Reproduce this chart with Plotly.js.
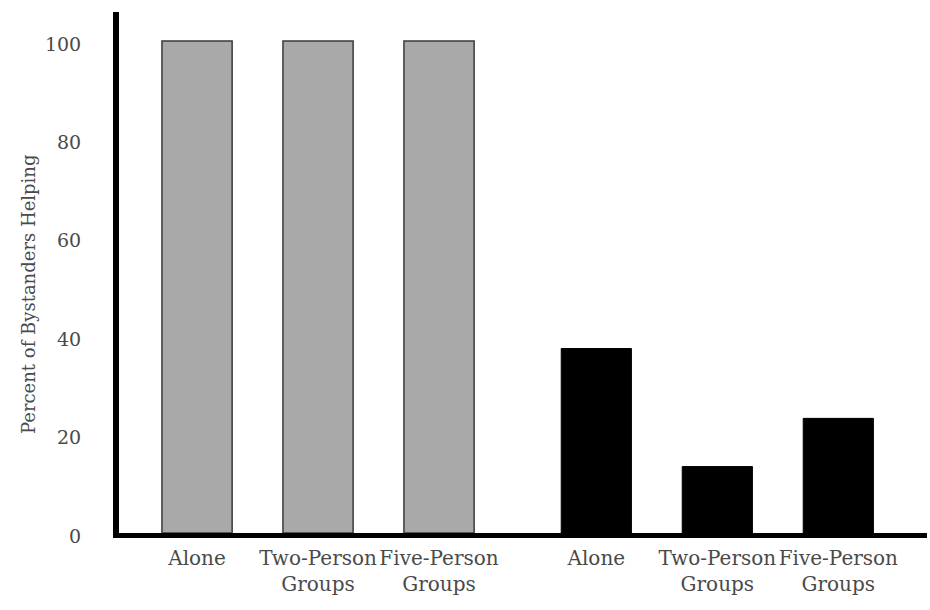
<!DOCTYPE html>
<html>
<head>
<meta charset="utf-8">
<script src="https://cdn.plot.ly/plotly-3.0.1.min.js"></script>
<style>html,body{margin:0;padding:0;background:#fff;}#chart{width:930px;height:610px;}</style>
</head>
<body>
<div id="chart"></div>
<script>
// Data
const categories = ["Alone", "Two-Person<br>Groups", "Five-Person<br>Groups"];
const grayValues = [100, 100, 100];
const blackValues = [37.5, 13.5, 23.3];
const yTicks = [0, 20, 40, 60, 80, 100];
const yTitle = "Percent of Bystanders Helping";

// Layout helpers (positions computed, not data)
const groupOffset = 3.3;
const xGray = categories.map((c, i) => i);
const xBlack = categories.map((c, i) => i + groupOffset);

const fontFam = "DejaVu Serif, Liberation Serif, serif";
const txtColor = "#4a4a4a";

const traces = [
  {
    type: "bar", x: xGray, y: grayValues, width: 0.58,
    marker: {color: "#a9a9a9", line: {color: "#3a3a3a", width: 1.5}},
    hoverinfo: "y", showlegend: false
  },
  {
    type: "bar", x: xBlack, y: blackValues, width: 0.58,
    marker: {color: "#000000", line: {color: "#000000", width: 1}},
    hoverinfo: "y", showlegend: false
  }
];

const layout = {
  width: 930, height: 610,
  margin: {l: 119, r: 3, t: 12, b: 77},
  paper_bgcolor: "#ffffff", plot_bgcolor: "#ffffff",
  showlegend: false,
  xaxis: {
    range: [-0.645, 6.033],
    tickvals: xGray.concat(xBlack),
    ticktext: categories.concat(categories),
    tickangle: 0,
    showline: true, linecolor: "#000", linewidth: 5,
    showgrid: false, zeroline: false, ticks: "",
    ticklabelstandoff: 3,
    tickfont: {family: fontFam, size: 20, color: txtColor},
    fixedrange: true
  },
  yaxis: {
    range: [0, 105.9],
    tickvals: yTicks,
    ticktext: yTicks.map(String),
    showline: true, linecolor: "#000", linewidth: 6,
    showgrid: false, zeroline: false, ticks: "",
    ticklabelstandoff: 28,
    ticklabelshift: 3,
    tickfont: {family: fontFam, size: 19, color: txtColor},
    fixedrange: true
  },
  annotations: [{
    text: yTitle, xref: "paper", yref: "paper",
    x: -0.1126, y: 0.4587, xanchor: "center", yanchor: "middle",
    textangle: -90, showarrow: false,
    font: {family: fontFam, size: 18, color: txtColor}
  }]
};

Plotly.newPlot("chart", traces, layout, {displayModeBar: false, staticPlot: true});
</script>
</body>
</html>
